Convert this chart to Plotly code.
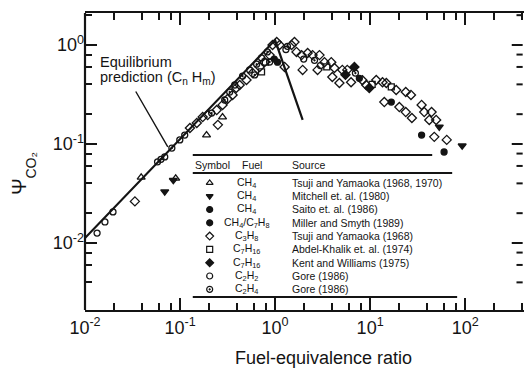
import math
import plotly.graph_objects as go

# ---- data: fuel-equivalence ratio (phi) vs normalized CO2 yield (psi) ----
tsuji_ch4_phi = [0.039, 0.09, 0.19, 0.28]
tsuji_ch4_psi = [0.046, 0.045, 0.123, 0.187]

mitchell_phi = [0.069, 0.085, 53.4, 93.0]
mitchell_psi = [0.033, 0.043, 0.149, 0.096]

saito_phi = [1.06, 0.98]
saito_psi = [0.67, 0.72]

miller_phi = [7.7, 16.7, 34.8, 60.0]
miller_psi = [0.46, 0.265, 0.123, 0.083]

tsuji_c3h8_phi = [0.0335, 0.25, 0.127, 0.15, 0.173, 0.195, 0.243, 0.28, 0.316, 0.357,
                  0.39, 0.424, 0.50, 0.58, 0.688, 0.776, 0.876, 0.94, 1.04, 1.115,
                  1.26, 1.49, 1.60, 1.68, 1.9, 1.95, 2.2, 2.48, 2.93, 2.8,
                  3.31, 3.9, 4.0, 4.75, 4.21, 5.1, 5.75, 6.3, 8.3, 9.1,
                  11.6, 13.5, 14.8, 18.8, 23.7, 26.9, 14.1, 20.3, 23.7, 27.5,
                  34.8, 37.1, 44.3, 41.9, 49.5, 47.3, 64.0]
tsuji_c3h8_psi = [0.0263, 0.156, 0.145, 0.163, 0.187, 0.196, 0.22, 0.248, 0.285, 0.313,
                  0.368, 0.394, 0.443, 0.52, 0.60, 0.673, 0.79, 1.0, 1.07, 1.0,
                  0.60, 1.0, 1.07, 0.85, 0.79, 0.56, 0.83, 0.79, 0.79, 0.56,
                  0.67, 0.67, 0.475, 0.413, 0.585, 0.56, 0.56, 0.42, 0.44, 0.394,
                  0.443, 0.42, 0.413, 0.351, 0.335, 0.313, 0.265, 0.236, 0.21, 0.183,
                  0.248, 0.21, 0.21, 0.175, 0.175, 0.118, 0.11]

abdel_phi = [0.72, 0.79, 3.5, 10.5, 16.7]
abdel_psi = [0.535, 0.67, 0.60, 0.40, 0.377]

kent_phi = [5.5, 6.83, 9.8]
kent_psi = [0.50, 0.60, 0.368]

gore_c2h2_phi = [0.0134, 0.0162, 0.0197, 0.058, 0.069, 0.112, 0.0994, 0.376, 0.54, 0.72,
                 1.3, 2.0, 3.0]
gore_c2h2_psi = [0.0126, 0.0163, 0.0206, 0.066, 0.074, 0.123, 0.11, 0.394, 0.559, 0.74,
                 0.90, 0.72, 0.62]

gore_c2h4_phi = [0.063, 0.082, 0.215, 0.295, 0.333, 0.455, 0.61, 0.64, 0.83, 0.876,
                 1.35, 2.6, 7.0]
gore_c2h4_psi = [0.07, 0.091, 0.205, 0.278, 0.335, 0.485, 0.498, 0.64, 0.85, 0.673,
                 0.97, 0.70, 0.52]

# equilibrium prediction for CnHm fuels
equil_phi = [0.01, 1.0, 1.95]
equil_psi = [0.0112, 1.12, 0.175]

# table of data sources
tbl_symbols = ["triangle-up-open", "triangle-down", "circle", "circle", "diamond-open",
               "square-open", "diamond", "circle-open", "circle-open-dot"]
tbl_fuels = ["CH<sub>4</sub>", "CH<sub>4</sub>", "CH<sub>4</sub>",
             "CH<sub>4</sub>/C<sub>7</sub>H<sub>8</sub>", "C<sub>3</sub>H<sub>8</sub>",
             "C<sub>7</sub>H<sub>16</sub>", "C<sub>7</sub>H<sub>16</sub>",
             "C<sub>2</sub>H<sub>2</sub>", "C<sub>2</sub>H<sub>4</sub>"]
tbl_sources = ["Tsuji and Yamaoka (1968, 1970)", "Mitchell et. al. (1980)",
               "Saito et. al. (1986)", "Miller and Smyth (1989)",
               "Tsuji and Yamaoka (1968)", "Abdel-Khalik et. al. (1974)",
               "Kent and Williams (1975)", "Gore (1986)", "Gore (1986)"]

x_major = [0.01, 0.1, 1, 10, 100]
x_major_text = ["10<sup>-2</sup>", "10<sup>-1</sup>", "10<sup>0</sup>", "10<sup>1</sup>", "10<sup>2</sup>"]
y_major = [0.01, 0.1, 1]
y_major_text = ["10<sup>-2</sup>", "10<sup>-1</sup>", "10<sup>0</sup>"]
minor_vals = [m * 10.0 ** e for e in range(-3, 3) for m in (2, 4, 6, 8)]

X_RANGE = [-2, 2.619]
Y_RANGE = [-2.677, 0.323]

INK = "#141414"
FONT = "Liberation Sans, Arial, sans-serif"

series = [
    (tsuji_ch4_phi, tsuji_ch4_psi, tbl_symbols[0], 7),
    (mitchell_phi, mitchell_psi, tbl_symbols[1], 7),
    (saito_phi, saito_psi, tbl_symbols[2], 6),
    (miller_phi, miller_psi, tbl_symbols[3], 6),
    (tsuji_c3h8_phi, tsuji_c3h8_psi, tbl_symbols[4], 7),
    (abdel_phi, abdel_psi, tbl_symbols[5], 6),
    (kent_phi, kent_psi, tbl_symbols[6], 7),
    (gore_c2h2_phi, gore_c2h2_psi, tbl_symbols[7], 6),
    (gore_c2h4_phi, gore_c2h4_psi, tbl_symbols[8], 6),
]

fig = go.Figure()

fig.add_trace(go.Scatter(x=equil_phi, y=equil_psi, mode="lines",
                         line=dict(color=INK, width=2.2), showlegend=False, hoverinfo="skip"))

for xs, ys, sym, size in series:
    fig.add_trace(go.Scatter(
        x=xs, y=ys, mode="markers", showlegend=False,
        marker=dict(symbol=sym, size=size, color=INK, line=dict(color=INK, width=1.3)),
    ))

# right-hand frame ticks, drawn on the main log axes just inside the right edge
right_x, right_major_x, right_minor_x = 10 ** 2.605, 10 ** 2.49, 10 ** 2.54
rt_x, rt_y = [], []
for v in y_major + minor_vals:
    lv = math.log10(v)
    if Y_RANGE[0] < lv < Y_RANGE[1]:
        rt_x += [right_major_x if v in y_major else right_minor_x, right_x, None]
        rt_y += [v, v, None]
fig.add_trace(go.Scatter(x=rt_x, y=rt_y, mode="lines", showlegend=False, hoverinfo="skip",
                         line=dict(color=INK, width=2)))

# source table, laid out on an overlay axis pair spanning the plot area
row_top, row_step = 0.428, 0.0448
row_y = [row_top - i * row_step for i in range(len(tbl_sources))]
sym_x, fuel_x, src_x = 0.284, 0.368, 0.466

fig.add_trace(go.Scatter(
    x=[sym_x] * len(tbl_symbols), y=row_y, mode="markers", xaxis="x2", yaxis="y2",
    showlegend=False, hoverinfo="skip",
    marker=dict(symbol=tbl_symbols, size=6, color=INK, line=dict(color=INK, width=1.2)),
))

annotations = []
for y, fuel, src in zip(row_y, tbl_fuels, tbl_sources):
    annotations.append(dict(x=fuel_x, y=y, xref="paper", yref="paper", text=fuel,
                            showarrow=False, xanchor="center", yanchor="middle",
                            font=dict(size=10.5, color=INK, family=FONT)))
    annotations.append(dict(x=src_x, y=y, xref="paper", yref="paper", text=src,
                            showarrow=False, xanchor="left", yanchor="middle",
                            font=dict(size=10.5, color=INK, family=FONT)))

header_y = 0.488
for hx, htxt in [(0.2455, "Symbol"), (0.352, "Fuel"), (0.468, "Source")]:
    annotations.append(dict(x=hx, y=header_y, xref="paper", yref="paper", text=htxt,
                            showarrow=False, xanchor="left", yanchor="middle",
                            font=dict(size=10.5, color=INK, family=FONT)))

# equilibrium label and pointer
annotations.append(dict(x=0.0295, y=0.835, xref="paper", yref="paper", text="Equilibrium",
                        showarrow=False, xanchor="left", yanchor="middle",
                        font=dict(size=14.5, color=INK, family=FONT)))
annotations.append(dict(x=0.0295, y=0.781, xref="paper", yref="paper",
                        text="prediction (C<sub>n</sub> H<sub>m</sub>)",
                        showarrow=False, xanchor="left", yanchor="middle",
                        font=dict(size=14.5, color=INK, family=FONT)))
annotations.append(dict(x=math.log10(0.0743), y=math.log10(0.0933), xref="x", yref="y",
                        ax=math.log10(0.0335), ay=math.log10(0.351), axref="x", ayref="y",
                        text="", showarrow=True, arrowhead=0, arrowwidth=1.4, arrowcolor=INK))

# axis titles
annotations.append(dict(x=0.543, y=-0.162, xref="paper", yref="paper",
                        text="Fuel-equivalence ratio", showarrow=False,
                        xanchor="center", yanchor="middle",
                        font=dict(size=18, color=INK, family=FONT)))
annotations.append(dict(x=-0.150, y=0.415, xref="paper", yref="paper",
                        text="Ψ", showarrow=False, textangle=-90,
                        xanchor="center", yanchor="middle",
                        font=dict(size=20, color=INK, family=FONT)))
annotations.append(dict(x=-0.122, y=0.488, xref="paper", yref="paper",
                        text="CO₂", showarrow=False, textangle=-90,
                        xanchor="center", yanchor="middle",
                        font=dict(size=14, color=INK, family=FONT)))

shapes = [
    # left frame line
    dict(type="line", xref="paper", yref="paper", x0=0, x1=0, y0=0, y1=1,
         line=dict(color=INK, width=2.2)),
    # table rules
    dict(type="line", xref="paper", yref="paper", x0=0.2455, x1=0.7909, y0=0.5219, y1=0.5219,
         line=dict(color=INK, width=1.8)),
    dict(type="line", xref="paper", yref="paper", x0=0.2455, x1=0.8364, y0=0.4613, y1=0.4613,
         line=dict(color=INK, width=1.8)),
    dict(type="line", xref="paper", yref="paper", x0=0.2455, x1=0.8477, y0=0.0438, y1=0.0438,
         line=dict(color=INK, width=1.8)),
]

tick_font = dict(size=18, color=INK, family=FONT)

fig.update_layout(
    width=524, height=377,
    margin=dict(l=85, r=0, t=13, b=67),
    paper_bgcolor="white", plot_bgcolor="white",
    annotations=annotations, shapes=shapes,
    xaxis=dict(type="log", range=X_RANGE, showgrid=False, zeroline=False,
               showline=True, linecolor=INK, linewidth=2.2, mirror="ticks",
               ticks="inside", ticklen=12, tickwidth=2, tickcolor=INK,
               tickvals=x_major, ticktext=x_major_text, tickfont=tick_font,
               minor=dict(tickvals=minor_vals, ticks="inside", ticklen=7,
                          tickwidth=2, tickcolor=INK, showgrid=False)),
    yaxis=dict(type="log", range=Y_RANGE, showgrid=False, zeroline=False,
               showline=False,
               ticks="inside", ticklen=12, tickwidth=2, tickcolor=INK,
               tickvals=y_major, ticktext=y_major_text, tickfont=tick_font,
               minor=dict(tickvals=minor_vals, ticks="inside", ticklen=7,
                          tickwidth=2, tickcolor=INK, showgrid=False)),
    xaxis2=dict(overlaying="x", range=[0, 1], visible=False, fixedrange=True),
    yaxis2=dict(overlaying="y", range=[0, 1], visible=False, fixedrange=True),
)

fig.write_html("out.html")
